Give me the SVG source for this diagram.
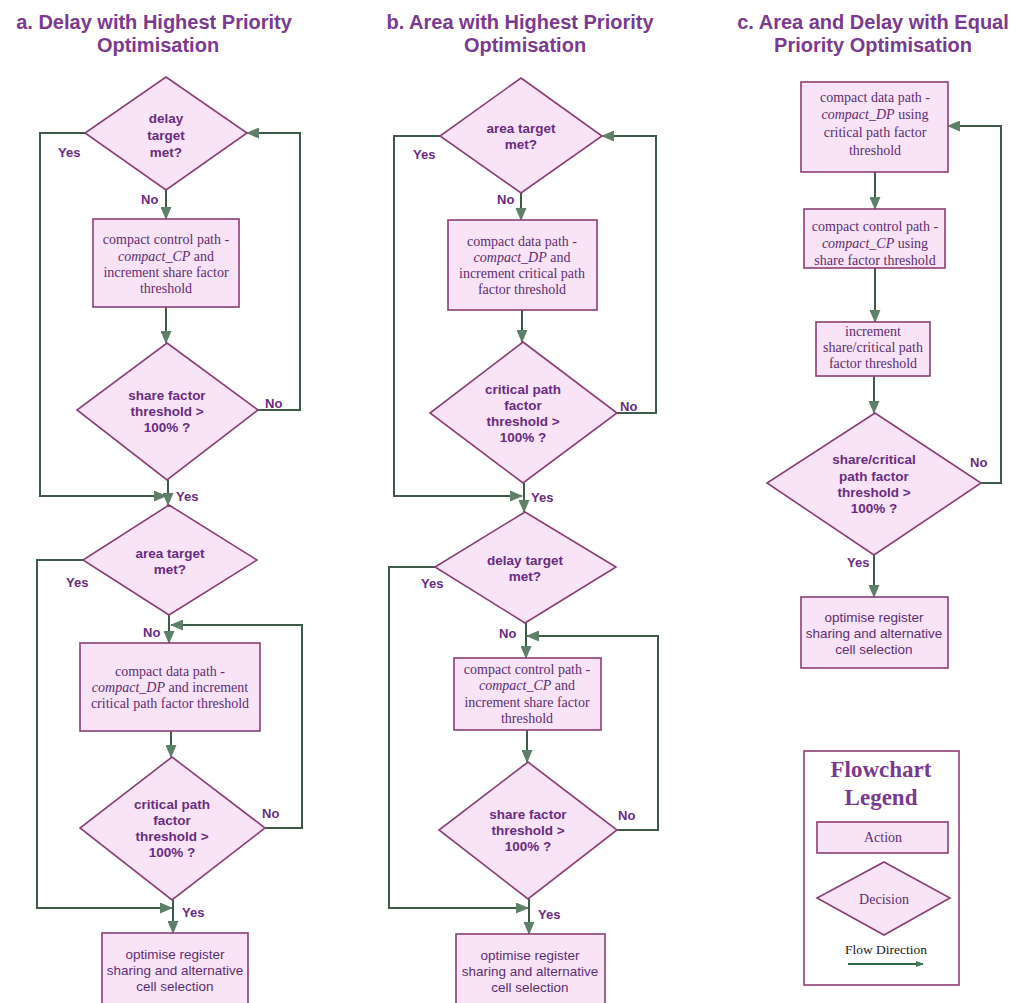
<svg xmlns="http://www.w3.org/2000/svg" width="1027" height="1003" viewBox="0 0 1027 1003">
<style>
.t{font-family:"Liberation Sans",Arial,sans-serif;font-weight:bold;font-size:20px;fill:#7a3a8f;text-anchor:middle}
.n{fill:#f8e4f6;stroke:#8a3f73;stroke-width:1.6}
.d{font-family:"Liberation Sans",Arial,sans-serif;font-weight:bold;font-size:13.5px;fill:#6a2c80;text-anchor:middle}
.b{font-family:"Liberation Serif","Times New Roman",serif;font-size:14px;fill:#5e2e72;text-anchor:middle}
.l{font-family:"Liberation Sans",Arial,sans-serif;font-weight:bold;font-size:13px;fill:#6a2c80}
.s{font-family:"Liberation Sans",Arial,sans-serif;font-size:13.5px;fill:#5e2e72;text-anchor:middle}
.c{fill:none;stroke:#3e5a48;stroke-width:2;marker-end:url(#ah)}
</style>
<defs>
<marker id="ah" markerUnits="userSpaceOnUse" markerWidth="13" markerHeight="11" refX="12" refY="5.5" orient="auto">
<path d="M0,0 L13,5.5 L0,11 z" fill="#5f8068"/>
</marker>
<marker id="ahs" markerUnits="userSpaceOnUse" markerWidth="8" markerHeight="6" refX="7" refY="3" orient="auto">
<path d="M0,0 L8,3 L0,6 z" fill="#3e7a58"/>
</marker>
</defs>
<rect width="1027" height="1003" fill="#ffffff"/>

<g id="titles">
<text class="t" x="154" y="29">a. Delay with Highest Priority</text>
<text class="t" x="158" y="52">Optimisation</text>
<text class="t" x="520" y="29">b. Area with Highest Priority</text>
<text class="t" x="525" y="52">Optimisation</text>
<text class="t" x="873" y="29">c. Area and Delay with Equal</text>
<text class="t" x="873" y="52">Priority Optimisation</text>
</g>

<g id="connectors">
<!-- column a -->
<path class="c" d="M166,190 V219"/>
<path class="c" d="M166,307 V343"/>
<path class="c" d="M258,410 H300 V133 H247"/>
<path class="c" d="M85,133 H40 V496 H166"/>
<path class="c" d="M168,480 V505"/>
<path class="c" d="M169,615 V643"/>
<path class="c" d="M83,560 H37 V908 H172"/>
<path class="c" d="M265,828 H302 V625 H171"/>
<path class="c" d="M171,731 V757"/>
<path class="c" d="M173,900 V933"/>
<!-- column b -->
<path class="c" d="M521,193 V220"/>
<path class="c" d="M522,310 V342"/>
<path class="c" d="M617,413 H656 V136 H602"/>
<path class="c" d="M440,136 H394 V496 H522"/>
<path class="c" d="M524,483 V512"/>
<path class="c" d="M526,623 V658"/>
<path class="c" d="M435,567 H389 V908 H528"/>
<path class="c" d="M617,830 H658 V636 H527"/>
<path class="c" d="M527,730 V762"/>
<path class="c" d="M529,899 V934"/>
<!-- column c -->
<path class="c" d="M875,172 V209"/>
<path class="c" d="M875,268 V322"/>
<path class="c" d="M874,376 V413"/>
<path class="c" d="M981,483 H1001 V126 H948"/>
<path class="c" d="M874,555 V597"/>
</g>

<g id="a-d1"><polygon class="n" points="166,77 247,133 166,190 85,133"/>
<text class="d" x="166" y="123">delay</text><text class="d" x="166" y="140">target</text><text class="d" x="166" y="157">met?</text></g>
<g id="a-b1"><rect class="n" x="93" y="219" width="146" height="88"/>
<text class="b" x="166" y="244">compact control path -</text>
<text class="b" x="166" y="261"><tspan font-style="italic">compact_CP</tspan> and</text>
<text class="b" x="166" y="277">increment share factor</text>
<text class="b" x="166" y="293">threshold</text></g>
<g id="a-d2"><polygon class="n" points="167,343 258,410 167,480 77,410"/>
<text class="d" x="167" y="400">share factor</text><text class="d" x="167" y="416">threshold &gt;</text><text class="d" x="167" y="432">100% ?</text></g>
<g id="a-d3"><polygon class="n" points="169,505 257,560 169,615 83,560"/>
<text class="d" x="170" y="558">area target</text><text class="d" x="170" y="574">met?</text></g>
<g id="a-b2"><rect class="n" x="80" y="643" width="180" height="88"/>
<text class="b" x="170" y="676">compact data path -</text>
<text class="b" x="170" y="692"><tspan font-style="italic">compact_DP</tspan> and increment</text>
<text class="b" x="170" y="708">critical path factor threshold</text></g>
<g id="a-d4"><polygon class="n" points="172,757 265,828 172,900 80,828"/>
<text class="d" x="172" y="809">critical path</text><text class="d" x="172" y="825">factor</text><text class="d" x="172" y="841">threshold &gt;</text><text class="d" x="172" y="857">100% ?</text></g>
<g id="a-b3"><rect class="n" x="102" y="933" width="146" height="80"/>
<text class="s" x="175" y="959">optimise register</text>
<text class="s" x="175" y="975">sharing and alternative</text>
<text class="s" x="175" y="991">cell selection</text></g>

<g id="b-d1"><polygon class="n" points="521,78 602,136 521,193 440,136"/>
<text class="d" x="521" y="133">area target</text><text class="d" x="521" y="149">met?</text></g>
<g id="b-b1"><rect class="n" x="448" y="220" width="149" height="90"/>
<text class="b" x="522" y="246">compact data path -</text>
<text class="b" x="522" y="262"><tspan font-style="italic">compact_DP</tspan> and</text>
<text class="b" x="522" y="278">increment critical path</text>
<text class="b" x="522" y="294">factor threshold</text></g>
<g id="b-d2"><polygon class="n" points="523,342 617,413 523,483 430,413"/>
<text class="d" x="523" y="394">critical path</text><text class="d" x="523" y="410">factor</text><text class="d" x="523" y="426">threshold &gt;</text><text class="d" x="523" y="442">100% ?</text></g>
<g id="b-d3"><polygon class="n" points="525,512 616,567 525,623 435,567"/>
<text class="d" x="525" y="565">delay target</text><text class="d" x="525" y="581">met?</text></g>
<g id="b-b2"><rect class="n" x="454" y="658" width="147" height="72"/>
<text class="b" x="527" y="674">compact control path -</text>
<text class="b" x="527" y="690"><tspan font-style="italic">compact_CP</tspan> and</text>
<text class="b" x="527" y="707">increment share factor</text>
<text class="b" x="527" y="723">threshold</text></g>
<g id="b-d4"><polygon class="n" points="528,762 617,830 528,899 439,830"/>
<text class="d" x="528" y="819">share factor</text><text class="d" x="528" y="835">threshold &gt;</text><text class="d" x="528" y="851">100% ?</text></g>
<g id="b-b3"><rect class="n" x="456" y="934" width="149" height="80"/>
<text class="s" x="530" y="960">optimise register</text>
<text class="s" x="530" y="976">sharing and alternative</text>
<text class="s" x="530" y="992">cell selection</text></g>

<g id="c-b1"><rect class="n" x="801" y="82" width="147" height="90"/>
<text class="b" x="875" y="102">compact data path -</text>
<text class="b" x="875" y="119"><tspan font-style="italic">compact_DP</tspan> using</text>
<text class="b" x="875" y="137">critical path factor</text>
<text class="b" x="875" y="155">threshold</text></g>
<g id="c-b2"><rect class="n" x="804" y="209" width="141" height="59"/>
<text class="b" x="875" y="231">compact control path -</text>
<text class="b" x="875" y="248"><tspan font-style="italic">compact_CP</tspan> using</text>
<text class="b" x="875" y="265">share factor threshold</text></g>
<g id="c-b3"><rect class="n" x="816" y="322" width="114" height="54"/>
<text class="b" x="873" y="336">increment</text>
<text class="b" x="873" y="352">share/critical path</text>
<text class="b" x="873" y="368">factor threshold</text></g>
<g id="c-d1"><polygon class="n" points="875,413 981,483 874,555 767,483"/>
<text class="d" x="874" y="464">share/critical</text><text class="d" x="874" y="481">path factor</text><text class="d" x="874" y="497">threshold &gt;</text><text class="d" x="874" y="513">100% ?</text></g>
<g id="c-b4"><rect class="n" x="801" y="597" width="147" height="71"/>
<text class="s" x="874" y="622">optimise register</text>
<text class="s" x="874" y="638">sharing and alternative</text>
<text class="s" x="874" y="654">cell selection</text></g>

<g id="labels">
<text class="l" x="58" y="157">Yes</text>
<text class="l" x="141" y="204">No</text>
<text class="l" x="265" y="408">No</text>
<text class="l" x="176" y="501">Yes</text>
<text class="l" x="66" y="587">Yes</text>
<text class="l" x="143" y="637">No</text>
<text class="l" x="262" y="818">No</text>
<text class="l" x="182" y="917">Yes</text>
<text class="l" x="413" y="159">Yes</text>
<text class="l" x="497" y="204">No</text>
<text class="l" x="620" y="411">No</text>
<text class="l" x="531" y="502">Yes</text>
<text class="l" x="421" y="588">Yes</text>
<text class="l" x="499" y="638">No</text>
<text class="l" x="618" y="820">No</text>
<text class="l" x="538" y="919">Yes</text>
<text class="l" x="970" y="467">No</text>
<text class="l" x="847" y="567">Yes</text>
</g>

<g id="legend">
<rect x="804" y="751" width="155" height="234" fill="#ffffff" stroke="#8a3f73" stroke-width="1.6"/>
<text x="881" y="777" font-family="'Liberation Serif','Times New Roman',serif" font-weight="bold" font-size="23" fill="#7a3a8f" text-anchor="middle">Flowchart</text>
<text x="881" y="805" font-family="'Liberation Serif','Times New Roman',serif" font-weight="bold" font-size="23" fill="#7a3a8f" text-anchor="middle">Legend</text>
<rect class="n" x="817" y="822" width="131" height="31"/>
<text class="b" x="883" y="842">Action</text>
<polygon class="n" points="884,862 950,898 884,935 817,898"/>
<text class="b" x="884" y="904">Decision</text>
<text x="886" y="954" font-family="'Liberation Serif','Times New Roman',serif" font-size="13.5" fill="#222222" text-anchor="middle">Flow Direction</text>
<path d="M848,964 H923" stroke="#2f6a48" stroke-width="2" fill="none" marker-end="url(#ahs)"/>
</g>
</svg>
